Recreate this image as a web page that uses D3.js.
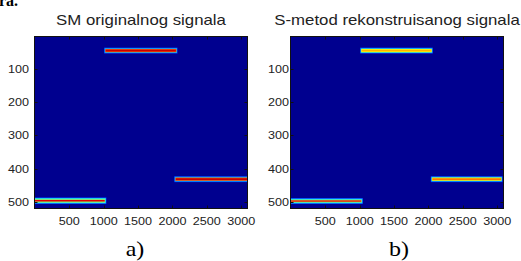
<!DOCTYPE html>
<html>
<head>
<meta charset="utf-8">
<script src="https://cdn.jsdelivr.net/npm/d3@7"></script>
<style>
  body { margin: 0; background: #fff; }
  svg { display: block; }
</style>
</head>
<body>
<div id="chart"></div>
<script>
// Two time-frequency maps side by side (MATLAB style, jet colormap)
const WIDTH = 521;
const HEIGHT = 261;

// Data
const TITLES = ["SM originalnog signala", "S-metod rekonstruisanog signala"];
const LABELS = ["a)", "b)"];
const X_TICKS = [500, 1000, 1500, 2000, 2500, 3000];
const Y_TICKS = [100, 200, 300, 400, 500];
const X_DOMAIN = [0, 3085];
const Y_DOMAIN = [3, 519];

// ridges: [x start, x end, row]
const RIDGES_A = [[1030, 2050, 44], [0, 1015, 497], [2050, 3085, 432]];
const RIDGES_B = [[1030, 2040, 44], [0, 1022, 498], [2058, 3055, 432]];
// ridge cross-sections: [half width in rows, value 0..1], outer to inner
const PROFILES_A = [
  [[9, 0.18], [7, 0.32], [5, 0.8], [2.5, 0.93]],
  [[10, 0.18], [8, 0.33], [6, 0.5], [2.5, 0.9]],
  [[9, 0.18], [7, 0.32], [5, 0.8], [2.5, 0.93]]
];
const PROFILES_B = [
  [[9, 0.18], [7, 0.33], [5, 0.62], [2.5, 0.7]],
  [[9, 0.18], [7, 0.33], [4.5, 0.52], [2, 0.88]],
  [[9, 0.18], [7, 0.33], [5, 0.65], [2.5, 0.76]]
];

// Layout
const PANEL_X = [35, 291];
const PANEL_TOP = 37;
const PANEL_W = 212;
const PANEL_H = 171;
const STRETCH = 1.2; // the source image is stretched horizontally

// jet colormap
const JET = d3.scaleLinear()
  .domain([0, 0.125, 0.375, 0.625, 0.875, 1])
  .range(["#00008f", "#0000ff", "#00ffff", "#ffff00", "#ff0000", "#800000"])
  .clamp(true);

const SVG = d3.select("#chart")
  .append("svg")
    .attr("width", WIDTH)
    .attr("height", HEIGHT)
    .attr("font-family", "'Liberation Sans', Arial, sans-serif");

// slight blur so ridges look like the scanned image
SVG.append("defs")
  .append("filter")
    .attr("id", "soft")
    .attr("x", "-5%").attr("y", "-50%").attr("width", "110%").attr("height", "200%")
  .append("feGaussianBlur")
    .attr("stdDeviation", 0.6);

function stretchedText(g, x, y, txt, size, anchor) {
  return g.append("text")
    .attr("transform", "translate(" + x + "," + y + ") scale(" + STRETCH + ",1)")
    .attr("text-anchor", anchor)
    .attr("font-size", size)
    .text(txt);
}

// cut-off caption of the previous line in the source document
SVG.append("text")
  .attr("x", -1)
  .attr("y", 6)
  .attr("font-family", "'Liberation Serif', 'Times New Roman', serif")
  .attr("font-weight", "bold")
  .attr("font-size", 16)
  .text("ra.");

function drawPanel(i, ridges, profiles) {
  const left = PANEL_X[i];
  const X_SCALE = d3.scaleLinear().domain(X_DOMAIN).range([left, left + PANEL_W]);
  const Y_SCALE = d3.scaleLinear().domain(Y_DOMAIN).range([PANEL_TOP, PANEL_TOP + PANEL_H]);

  const g = SVG.append("g");

  g.append("clipPath")
    .attr("id", "clip" + i)
    .append("rect")
      .attr("x", left)
      .attr("y", PANEL_TOP)
      .attr("width", PANEL_W)
      .attr("height", PANEL_H);

  // background
  g.append("rect")
    .attr("x", left)
    .attr("y", PANEL_TOP)
    .attr("width", PANEL_W)
    .attr("height", PANEL_H)
    .attr("fill", JET(0));

  // flatten ridges into stripes
  const stripes = [];
  ridges.forEach((r, k) => {
    profiles[k].forEach((p, j) => {
      const pad = (profiles[k].length - 1 - j) * 8; // outer stripes reach a bit past the ends
      stripes.push({x0: r[0] - pad, x1: r[1] + pad, y: r[2], hw: p[0], v: p[1]});
    });
  });

  g.append("g")
    .attr("clip-path", "url(#clip" + i + ")")
    .append("g")
    .attr("filter", "url(#soft)")
    .selectAll("rect")
    .data(stripes)
    .enter()
    .append("rect")
      .attr("x", (d) => X_SCALE(d.x0))
      .attr("width", (d) => X_SCALE(d.x1) - X_SCALE(d.x0))
      .attr("y", (d) => Y_SCALE(d.y - d.hw))
      .attr("height", (d) => Y_SCALE(d.y + d.hw) - Y_SCALE(d.y - d.hw))
      .attr("fill", (d) => JET(d.v));

  // ticks (inward, on all four sides)
  const tickG = g.append("g").attr("stroke", "#111").attr("stroke-width", 1);
  X_TICKS.forEach((t) => {
    const x = Math.round(X_SCALE(t)) + 0.5;
    tickG.append("line").attr("x1", x).attr("x2", x)
      .attr("y1", PANEL_TOP + PANEL_H).attr("y2", PANEL_TOP + PANEL_H - 2.5);
    tickG.append("line").attr("x1", x).attr("x2", x)
      .attr("y1", PANEL_TOP).attr("y2", PANEL_TOP + 2.5);
  });
  Y_TICKS.forEach((t) => {
    const y = Math.round(Y_SCALE(t)) + 0.5;
    tickG.append("line").attr("x1", left).attr("x2", left + 2.5)
      .attr("y1", y).attr("y2", y);
    tickG.append("line").attr("x1", left + PANEL_W).attr("x2", left + PANEL_W - 2.5)
      .attr("y1", y).attr("y2", y);
  });

  // frame
  g.append("rect")
    .attr("x", left - 0.5)
    .attr("y", PANEL_TOP - 0.5)
    .attr("width", PANEL_W + 1)
    .attr("height", PANEL_H + 1)
    .attr("fill", "none")
    .attr("stroke", "#111")
    .attr("stroke-width", 1);

  // tick labels
  const lab = g.append("g").attr("fill", "#222");
  X_TICKS.forEach((t) => {
    stretchedText(lab, X_SCALE(t), 225, String(t), 10.5, "middle");
  });
  const yGap = i === 0 ? 6 : 2;
  Y_TICKS.forEach((t) => {
    stretchedText(lab, left - yGap, Y_SCALE(t) + 4, String(t), 10.5, "end");
  });

  // title
  stretchedText(g, left + PANEL_W / 2, 25, TITLES[i], 14, "middle").attr("fill", "#222");

  // panel label
  const lbl = stretchedText(g, [135, 399][i], 256, LABELS[i], 20, "middle");
  lbl.attr("font-family", "'Liberation Serif', 'Times New Roman', serif").attr("fill", "#000");
}

drawPanel(0, RIDGES_A, PROFILES_A);
drawPanel(1, RIDGES_B, PROFILES_B);
</script>
</body>
</html>
